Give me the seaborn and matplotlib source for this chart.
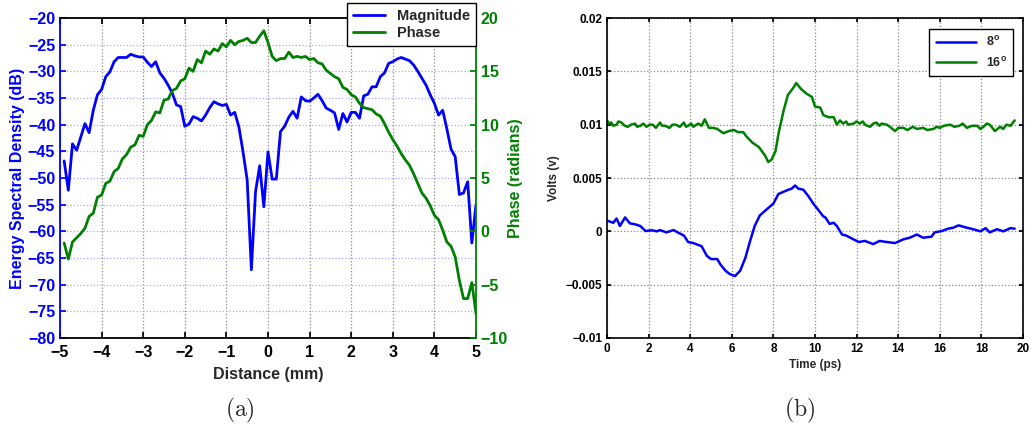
import numpy as np
import pandas as pd
import seaborn as sns
import matplotlib.pyplot as plt

# ---- panel (a) data: spectrum vs distance ----
distance_mm = np.round(np.arange(-4.9, 5.05, 0.1), 1)
magnitude_db = [-46.8, -52.3, -43.6, -44.8, -42.3, -39.8, -41.5, -37.3, -34.4, -33.4,
                -31.0, -30.1, -28.2, -27.4, -27.4, -27.4, -26.8, -27.1, -27.3, -27.3,
                -28.3, -29.1, -28.2, -30.3, -31.3, -32.6, -34.1, -36.3, -36.6, -40.3,
                -39.9, -38.5, -38.8, -39.3, -38.2, -36.8, -35.7, -36.1, -36.4, -36.2,
                -38.2, -37.7, -40.4, -45.1, -50.4, -67.2, -52.6, -47.7, -55.4, -45.1,
                -50.2, -50.2, -41.3, -40.3, -38.6, -37.5, -38.8, -34.8, -35.5, -35.6,
                -35.0, -34.3, -35.5, -36.9, -37.3, -37.8, -40.9, -37.9, -39.5, -37.7,
                -37.7, -38.8, -34.6, -34.3, -32.9, -32.9, -31.0, -30.3, -28.5, -28.2,
                -27.7, -27.4, -27.7, -28.0, -28.8, -30.0, -31.3, -32.6, -34.4, -36.0,
                -38.2, -37.3, -40.8, -44.6, -46.0, -53.1, -52.8, -50.7, -62.2, -55.0]
phase_rad = [-1.1, -2.6, -1.0, -0.6, -0.2, 0.3, 1.4, 1.7, 3.2, 3.4,
             4.5, 4.7, 5.6, 5.9, 6.8, 7.2, 7.9, 8.1, 9.0, 8.9,
             10.0, 10.4, 11.2, 11.1, 12.3, 12.4, 13.2, 13.4, 14.1, 14.3,
             15.3, 15.0, 16.1, 15.8, 16.9, 16.6, 17.1, 16.9, 17.6, 17.3,
             17.9, 17.5, 17.8, 17.9, 18.1, 17.7, 17.7, 18.3, 18.8, 17.7,
             16.4, 16.0, 16.2, 16.2, 16.8, 16.3, 16.4, 16.3, 16.4, 16.1,
             16.2, 15.8, 15.7, 15.1, 14.8, 14.5, 14.3, 13.5, 13.3, 12.8,
             12.6, 12.0, 11.6, 11.5, 11.4, 11.0, 10.8, 10.1, 9.3, 8.6,
             8.0, 7.3, 6.7, 6.2, 5.4, 4.5, 3.6, 3.1, 2.4, 1.5,
             1.1, 0.1, -1.0, -1.4, -2.4, -4.6, -6.3, -6.3, -4.8, -7.7]

# ---- panel (b) data: volts vs time ----
t_16 = [0.0, 0.1, 0.2, 0.3, 0.46, 0.55, 0.7, 0.85, 1.0, 1.15, 1.35, 1.45, 1.6, 1.75, 1.9,
        2.05, 2.2, 2.35, 2.55, 2.65, 2.8, 3.0, 3.15, 3.3, 3.5, 3.7, 3.8, 3.9, 4.05, 4.15,
        4.3, 4.4, 4.55, 4.7, 4.9, 5.1, 5.3, 5.6, 5.85, 6.1, 6.3, 6.55, 6.7, 7.0, 7.3,
        7.6, 7.75, 7.9, 8.1, 8.25, 8.5, 8.7, 8.9, 9.1, 9.35, 9.6, 9.85, 10.0, 10.25, 10.4,
        10.65, 10.9, 11.05, 11.2, 11.35, 11.5, 11.6, 11.85, 12.0, 12.15, 12.3, 12.4, 12.65,
        12.8, 12.95, 13.1, 13.2, 13.45, 13.6, 13.85, 14.0, 14.25, 14.45, 14.7, 14.9, 15.2,
        15.4, 15.7, 15.85, 16.0, 16.2, 16.5, 16.7, 16.95, 17.1, 17.3, 17.55, 17.8, 17.95,
        18.1, 18.25, 18.4, 18.65, 18.9, 19.05, 19.2, 19.4, 19.6]
v_16 = [0.0104, 0.0101, 0.0102, 0.0099, 0.0100, 0.0103, 0.0102, 0.0099, 0.0098, 0.0100,
        0.0101, 0.0098, 0.0099, 0.0101, 0.0098, 0.0100, 0.0100, 0.0097, 0.0102, 0.0099,
        0.0099, 0.0097, 0.0100, 0.0100, 0.0098, 0.0102, 0.0098, 0.0099, 0.0101, 0.0098,
        0.0100, 0.0101, 0.0099, 0.0105, 0.0097, 0.0097, 0.0096, 0.0092, 0.0094, 0.0095,
        0.0093, 0.0093, 0.0089, 0.0083, 0.0079, 0.0071, 0.0065, 0.0067, 0.0075, 0.0092,
        0.0114, 0.0128, 0.0133, 0.0139, 0.0133, 0.0129, 0.0126, 0.0117, 0.0116, 0.0109,
        0.0107, 0.0107, 0.0100, 0.0104, 0.0101, 0.0103, 0.0100, 0.0101, 0.0103, 0.0101,
        0.0103, 0.0100, 0.0098, 0.0101, 0.0102, 0.0099, 0.0101, 0.0100, 0.0098, 0.0094,
        0.0097, 0.0097, 0.0095, 0.0098, 0.0096, 0.0097, 0.0095, 0.0096, 0.0098, 0.0097,
        0.0099, 0.0100, 0.0098, 0.0099, 0.0101, 0.0097, 0.0099, 0.0099, 0.0096, 0.0098,
        0.0101, 0.0100, 0.0094, 0.0098, 0.0096, 0.0100, 0.0099, 0.0104]
t_8 = [0.06, 0.3, 0.46, 0.62, 0.87, 1.1, 1.35, 1.6, 1.85, 2.15, 2.4, 2.55, 2.85, 3.2, 3.4,
       3.7, 3.9, 4.15, 4.55, 4.8, 5.0, 5.3, 5.45, 5.7, 5.9, 6.15, 6.4, 6.65, 6.85, 7.1,
       7.35, 7.7, 8.0, 8.24, 8.48, 8.72, 8.88, 9.04, 9.2, 9.44, 9.68, 9.92, 10.16, 10.4, 10.5,
       10.7, 10.9, 11.05, 11.3, 11.5, 11.85, 12.1, 12.4, 12.8, 13.1, 13.45, 13.85, 14.25, 14.55,
       14.9, 15.2, 15.6, 15.75, 16.1, 16.4, 16.65, 16.9, 17.3, 17.6, 17.95, 18.2, 18.4, 18.75,
       19.05, 19.4, 19.6]
v_8 = [0.00097, 0.0008, 0.0012, 0.0005, 0.0013, 0.00075, 0.00066, 0.0005, 0.00003, 0.0001,
       0.0, 0.00012, -0.0001, 0.00012, -0.0001, -0.0004, -0.001, -0.0011, -0.0014, -0.0023,
       -0.0026, -0.0026, -0.0031, -0.0037, -0.004, -0.0042, -0.0037, -0.0025, -0.0011, 0.0005,
       0.0015, 0.0021, 0.0026, 0.0035, 0.0037, 0.0039, 0.0040, 0.0043, 0.0040, 0.0039,
       0.0033, 0.0026, 0.0020, 0.0014, 0.0013, 0.0007, 0.0008, 0.0005, -0.0003, -0.0004,
       -0.00075, -0.001, -0.0009, -0.0012, -0.0009, -0.001, -0.0011, -0.00075, -0.0006, -0.0003,
       -0.0006, -0.0005, -0.0001, 0.00003, 0.00025, 0.00034, 0.00056, 0.00034, 0.0002, 0.0,
       0.0003, -0.0001, 0.0002, 0.0, 0.0003, 0.00025]

volts_ticks = [-0.01, -0.005, 0, 0.005, 0.01, 0.015, 0.02]
volts_labels = ['\u22120.01', '\u22120.005', '0', '0.005', '0.01', '0.015', '0.02']

BLUE = (0, 0, 1)
GREEN = (0, 0.5, 0)

sns.set_theme(style="ticks")
plt.rcParams['font.family'] = ['Liberation Sans', 'DejaVu Sans']
plt.rcParams['font.weight'] = 'bold'
plt.rcParams['axes.labelweight'] = 'bold'
plt.rcParams['mathtext.fontset'] = 'custom'
plt.rcParams['mathtext.rm'] = 'Liberation Sans:bold'
plt.rcParams['mathtext.bf'] = 'Liberation Sans:bold'
plt.rcParams['xtick.direction'] = 'in'
plt.rcParams['ytick.direction'] = 'in'

fig = plt.figure(figsize=(10.34, 4.32), dpi=100)
W, H = 1034, 432
ax1 = fig.add_axes([60 / W, 1 - 338 / H, 416 / W, 320 / H])
ax3 = fig.add_axes([607 / W, 1 - 338 / H, 416 / W, 320 / H])

# ---- panel (a) ----
df_a = pd.DataFrame({'d': distance_mm, 'mag': magnitude_db, 'ph': phase_rad})
sns.lineplot(data=df_a, x='d', y='mag', ax=ax1, color=BLUE, lw=2, label='Magnitude')
ax2 = ax1.twinx()
sns.lineplot(data=df_a, x='d', y='ph', ax=ax2, color=GREEN, lw=2, label='Phase')

ax1.set_xlim(-5, 5)
ax1.set_ylim(-80, -20)
ax2.set_ylim(-10, 20)
ax1.set_xticks(range(-5, 6))
ax1.set_yticks(range(-80, -19, 5))
ax2.set_yticks(range(-10, 21, 5))
ax1.grid(axis='x', ls=':', color='#888888', lw=0.9)
ax1.grid(axis='y', ls=':', color='#a8a8ff', lw=0.9)
ax1.tick_params(axis='x', labelsize=11.5, colors='black', length=4, top=True, pad=5)
ax1.tick_params(axis='y', labelsize=11.5, colors=BLUE, length=4)
ax2.tick_params(axis='y', labelsize=11.5, colors=GREEN, length=4)
ax1.set_xlabel('Distance (mm)', fontsize=11.5, labelpad=5)
ax1.set_ylabel('Energy Spectral Density (dB)', fontsize=11.5, color=BLUE, labelpad=2)
ax2.set_ylabel('Phase (radians)', fontsize=11.5, color=GREEN, labelpad=0)
for sp in ['top', 'bottom']:
    ax1.spines[sp].set_color('black')
    ax1.spines[sp].set_linewidth(1.3)
ax1.spines['left'].set_color(BLUE)
ax1.spines['left'].set_linewidth(1.3)
ax2.spines['right'].set_color(GREEN)
ax2.spines['right'].set_linewidth(1.3)
for sp in ['left', 'top', 'bottom']:
    ax2.spines[sp].set_visible(False)
ax1.spines['right'].set_visible(False)

h1, l1 = ax1.get_legend_handles_labels()
h2, l2 = ax2.get_legend_handles_labels()
ax1.get_legend().remove()
ax2.get_legend().remove()
leg = fig.legend(h1 + h2, l1 + l2, loc='upper right', bbox_to_anchor=(476 / W, 1 - 3 / H),
                 fontsize=10.5, frameon=True, fancybox=False, edgecolor='black',
                 handlelength=2.2, borderaxespad=0, borderpad=0.4, labelspacing=0.25)
leg.get_frame().set_linewidth(1.0)
leg.get_frame().set_alpha(1)

# ---- panel (b) ----
df_8 = pd.DataFrame({'t': t_8, 'v': v_8})
df_16 = pd.DataFrame({'t': t_16, 'v': v_16})
sns.lineplot(data=df_8, x='t', y='v', ax=ax3, color=BLUE, lw=1.8, label=r'8$^\mathrm{o}$')
sns.lineplot(data=df_16, x='t', y='v', ax=ax3, color=GREEN, lw=1.8, label=r'16$^\mathrm{o}$')
ax3.set_xlim(0, 20)
ax3.set_ylim(-0.01, 0.02)
ax3.set_xticks(range(0, 21, 2))
ax3.set_yticks(volts_ticks)
ax3.set_yticklabels(volts_labels)
ax3.grid(True, ls=':', color='#888888', lw=0.9)
ax3.tick_params(labelsize=8.5, colors='black', length=3, top=True, right=True)
ax3.set_xlabel('Time (ps)', fontsize=8.5, labelpad=3)
ax3.set_ylabel('Volts (v)', fontsize=8.5, labelpad=4)
for sp in ax3.spines.values():
    sp.set_color('black')
    sp.set_linewidth(1.2)
leg3 = ax3.legend(loc='upper right', bbox_to_anchor=(1013 / W, 1 - 29 / H),
                  bbox_transform=fig.transFigure, fontsize=9, frameon=True, fancybox=False,
                  edgecolor='black', handlelength=3.2, borderaxespad=0, borderpad=0.5,
                  labelspacing=0.5)
leg3.get_frame().set_linewidth(1.0)
leg3.get_frame().set_alpha(1)

# captions
fig.text(240 / W, 1 - 410 / H, r'$\mathrm{(a)}$', math_fontfamily='cm', fontsize=17,
         ha='center', va='center')
fig.text(800 / W, 1 - 410 / H, r'$\mathrm{(b)}$', math_fontfamily='cm', fontsize=17,
         ha='center', va='center')

fig.savefig('out.png', dpi=100)
